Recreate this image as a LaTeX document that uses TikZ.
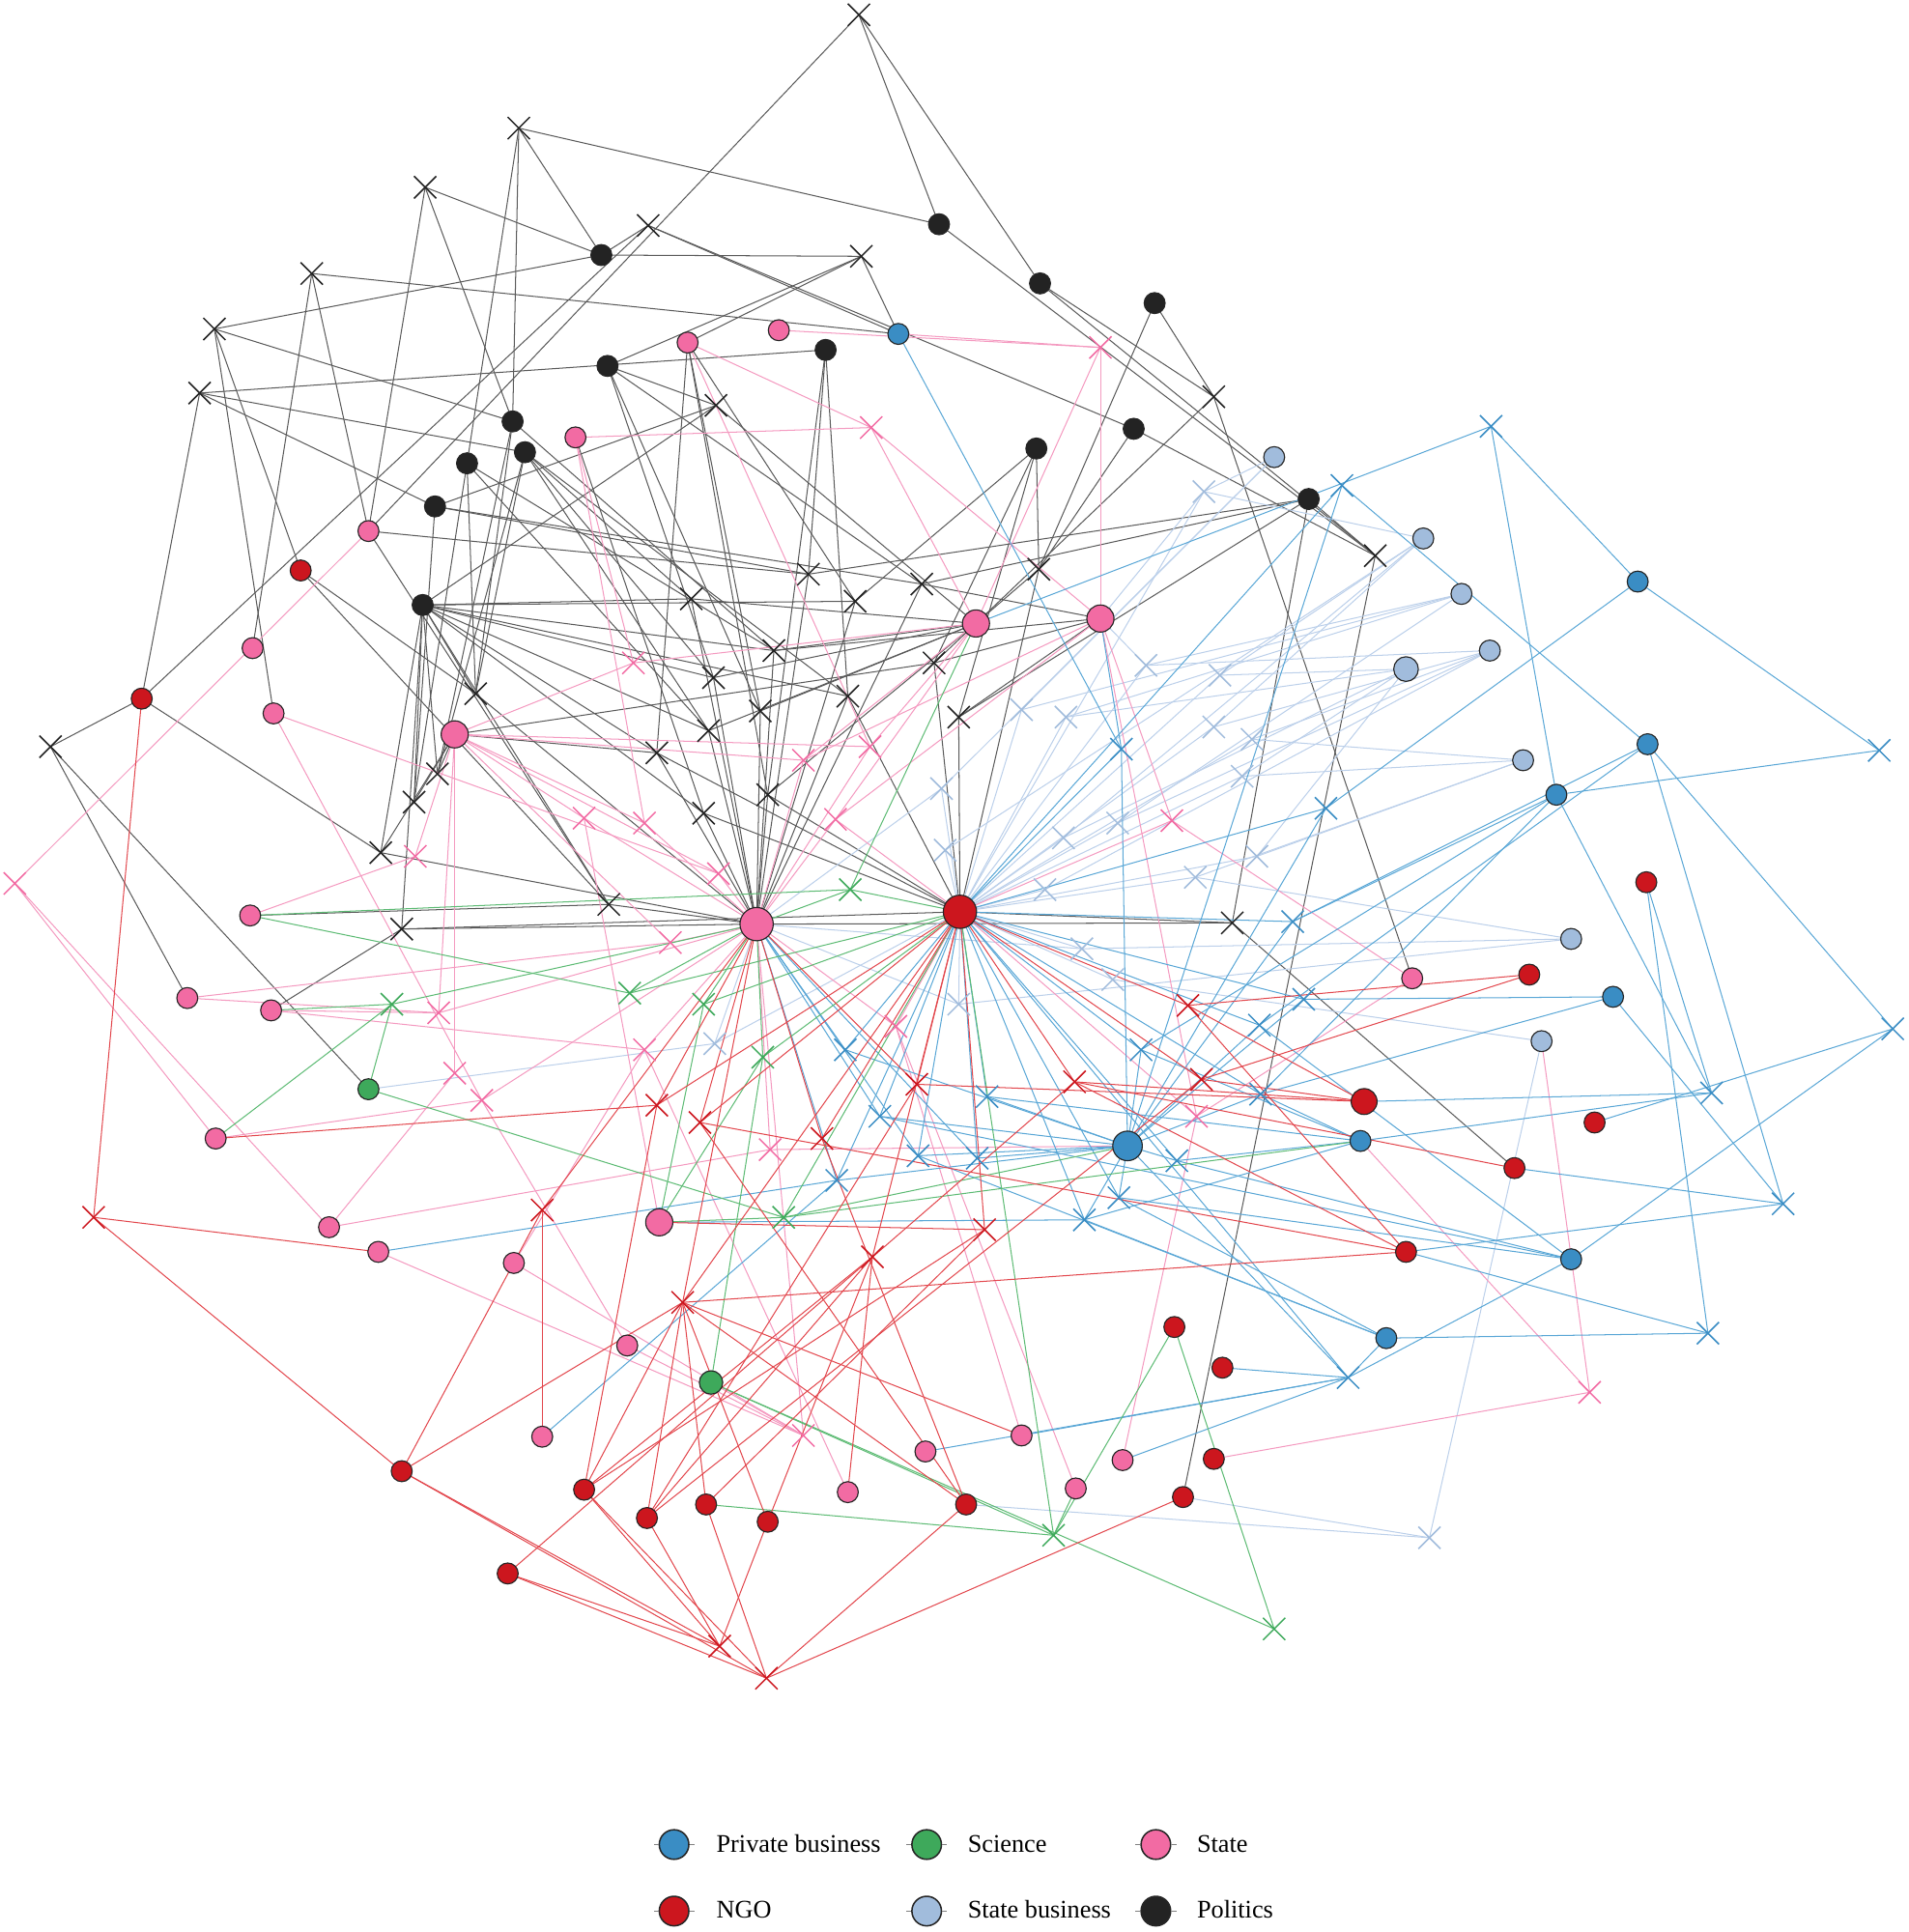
\documentclass[tikz,border=0pt]{standalone}
\usepackage{fontspec}
\setmainfont{Liberation Serif}
\usetikzlibrary{shapes.misc,backgrounds}
\definecolor{cBus}{HTML}{3A8DC4}
\definecolor{cSci}{HTML}{3EA95B}
\definecolor{cSta}{HTML}{F26BA3}
\definecolor{cNgo}{HTML}{CC161E}
\definecolor{cSB}{HTML}{A1BCDC}
\definecolor{cPol}{HTML}{232323}
\definecolor{eBlk}{HTML}{5A5A5A}
\definecolor{ePnk}{HTML}{F49AC0}
\definecolor{eRed}{HTML}{E2474D}
\definecolor{eBlu}{HTML}{5AA7D6}
\definecolor{eLb}{HTML}{BCD0EA}
\definecolor{eGrn}{HTML}{5DBB74}
\begin{document}
\begin{tikzpicture}[x=0.5pt,y=0.5pt,
  actor/.style={circle,draw=black!85,line width=0.45pt,inner sep=0,minimum size=8.5pt},
  pol/.style={actor,fill=cPol},
  sta/.style={actor,fill=cSta},
  ngo/.style={actor,fill=cNgo},
  bus/.style={actor,fill=cBus},
  sbus/.style={actor,fill=cSB},
  sci/.style={actor,fill=cSci},
  big/.style={minimum size=11pt},
  hub/.style={minimum size=13.5pt},
  evt/.style={cross out,draw,line width=0.6pt,inner sep=0,outer sep=0,minimum size=9pt},
  xblk/.style={evt,draw=cPol},
  xpnk/.style={evt,draw=cSta},
  xred/.style={evt,draw=cNgo},
  xblu/.style={evt,draw=cBus},
  xlb/.style={evt,draw=cSB},
  xgrn/.style={evt,draw=cSci},
  eline/.style={line width=0.4pt},
  lgtext/.style={anchor=base west,font=\fontsize{10.3}{12}\selectfont,inner sep=0},
  lgdot/.style={actor,minimum size=12pt,line width=0.6pt}
]
\useasboundingbox (0,0) rectangle (1549,-1568);
% ---------------- actors ----------------
\foreach \n/\a/\b in {p1/762/182,p2/488/207,p3/844/230,p4/937/246,p5/670/284,p6/493/297,p7/416/342,p8/426/367,p9/379/376,p10/920/348,p11/841/364,p12/353/411,p13/1062/405,p14/343/491}
  \node[pol] (\n) at (\a,-\b) {};
\foreach \n/\a/\b in {s1/558/278,s2/632/268,s3/467/355,s4/299/431,s5/205/526,s6/222/579,s11/203/743,s12/152/810,s13/220/820,s14/175/924,s15/267/996,s16/307/1016,s17/417/1025,s19/509/1092,s20/440/1166,s21/688/1211,s22/751/1178,s23/829/1165,s24/873/1208,s25/911/1185,s26/1146/794}
  \node[sta] (\n) at (\a,-\b) {};
\foreach \n/\a/\b in {s7/369/596,s8/792/506,s9/893/502,s18/535/992}
  \node[sta,big] (\n) at (\a,-\b) {};
\node[sta,hub] (s10) at (614,-750) {};
\foreach \n/\a/\b in {n1/244/463,n2/115/567,n4/1336/716,n5/1241/791,n7/1294/911,n8/1229/948,n9/1141/1016,n10/953/1077,n11/992/1110,n12/985/1184,n13/960/1215,n14/326/1194,n15/474/1209,n16/525/1232,n17/573/1221,n18/623/1235,n19/784/1221,n20/412/1277}
  \node[ngo] (\n) at (\a,-\b) {};
\node[ngo,minimum size=10.5pt] (n6) at (1107,-894) {};
\node[ngo,hub] (n3) at (779,-740) {};
\foreach \n/\a/\b in {b1/729/271,b2/1329/472,b3/1337/604,b4/1263/645,b5/1309/809,b7/1104/926,b8/1275/1022,b9/1125/1086}
  \node[bus] (\n) at (\a,-\b) {};
\node[bus,minimum size=12pt] (b6) at (915,-930) {};
\foreach \n/\a/\b in {sb1/1034/371,sb2/1155/437,sb3/1186/482,sb4/1209/528,sb6/1236/617,sb7/1275/762,sb8/1251/845}
  \node[sbus] (\n) at (\a,-\b) {};
\node[sbus,minimum size=10pt] (sb5) at (1141,-543) {};
\node[sci] (g1) at (299,-884) {};
\node[sci,minimum size=9.5pt] (g2) at (577,-1122) {};
% ---------------- events ----------------
\foreach \n/\a/\b in {x1/697/12,x2/421/104,x3/345/152,x4/526/183,x5/699/208,x6/253/222,x7/174/267,x8/162/319,x9/581/329,x10/985/322,x11/1116/451,x12/656/466,x13/748/474,x14/694/488,x15/843/462,x16/561/486,x17/628/528,x18/758/538,x19/579/550,x20/386/563,x21/688/565,x22/617/577,x23/778/582,x24/575/593,x25/533/611,x26/41/606,x27/355/628,x28/336/651,x29/623/645,x30/571/660,x31/309/692,x32/494/734,x33/326/754,x34/1000/749}
  \node[xblk] (\n) at (\a,-\b) {};
\foreach \n/\a/\b in {k1/893/282,k2/707/347,k3/514/538,k4/652/617,k5/706/606,k6/474/664,k7/523/668,k8/337/695,k9/678/665,k10/583/709,k11/951/666,k12/544/765,k13/356/822,k14/369/871,k15/391/893,k16/523/852,k17/625/933,k18/12/717,k19/727/833,k20/652/1165,k21/1290/1130,k22/971/906}
  \node[xpnk] (\n) at (\a,-\b) {};
\foreach \n/\a/\b in {gx1/690/722,gx2/318/815,gx3/511/806,gx4/571/815,gx5/619/858,gx6/636/988,gx7/855/1246,gx8/1034/1322}
  \node[xgrn] (\n) at (\a,-\b) {};
\foreach \n/\a/\b in {r1/964/816,r2/533/897,r3/568/911,r4/744/880,r5/667/924,r6/872/878,r7/975/876,r8/440/982,r9/76/988,r10/799/998,r11/708/1020,r12/554/1057,r13/584/1336,r14/622/1362}
  \node[xred] (\n) at (\a,-\b) {};
\foreach \n/\a/\b in {bx1/1210/346,bx2/1089/394,bx3/1525/609,bx4/910/608,bx5/1076/656,bx6/1049/748,bx7/1058/811,bx8/1022/832,bx9/686/852,bx10/801/890,bx11/714/906,bx12/926/852,bx13/745/938,bx14/793/940,bx15/679/958,bx16/955/942,bx17/908/972,bx18/880/990,bx19/1023/888,bx20/1536/835,bx21/1389/887,bx22/1447/977,bx23/1386/1082,bx24/1094/1118}
  \node[xblu] (\n) at (\a,-\b) {};
\foreach \n/\a/\b in {lb1/977/399,lb2/930/540,lb3/990/548,lb4/865/582,lb5/1016/600,lb6/1008/630,lb7/863/680,lb8/907/668,lb9/970/712,lb10/1020/695,lb11/848/722,lb12/878/770,lb13/903/795,lb14/778/815,lb15/580/847,lb16/764/640,lb17/767/690,lb18/1160/1248,lb19/829/576,lb20/985/590}
  \node[xlb] (\n) at (\a,-\b) {};
% ---------------- edges ----------------
\begin{pgfonlayer}{background}
\foreach \c/\l in {x1/{s4,p1,p3},x2/{p1,p2,p7,p9},x3/{p2,s4,p7},x4/{p2,b1,p10,n2},x5/{p2,s1,p6,b1},x6/{b1,s5,s4},x7/{p2,p7,n1,s6},x8/{p5,p8,n2,p12},x9/{p12,s8,p14,p6},x10/{p3,p4,s8,s26},x11/{p1,p3,p10,p13,n13},x12/{s4,p12,p5,s10,p13},x13/{p12,p6,s10,p13,s9},x14/{p14,s1,s10,p11},x15/{p10,p11,p4,s8,n3},x16/{p8,p14,s10,s8},x17/{p14,p9,s8,s9,s10,p7},x18/{p11,s8,s9,n3,s7},x19/{p8,p14,s10,s8,p6},x20/{p7,p8,p9,p14,s10,n1},x21/{p5,p14,s10,n3,p8},x22/{p6,s1,s10,s8},x23/{p11,s9,n3,p13},x24/{p8,p9,s10,s8,p14},x25/{p14,s7,s1,s10,n3},x26/{n2,s12,g1},x27/{p14,p7,p8,s7},x28/{p14,p9,p12,s7},x29/{s10,s1,p5,n3,s8},x30/{p14,s3,s10,n3},x31/{n2,p14,s7,s10},x32/{p14,s11,s10,n1,s4},x33/{p14,s13,s10,n3},x34/{n3,p13,n8,s10}}
  {\foreach \t in \l {\draw[eline,eBlk] (\c.center) -- (\t.center);}}
\foreach \c/\l in {lb1/{sb1,sb2,n3,s9},lb2/{sb3,sb4,n3,s9},lb3/{sb2,sb5,n3},lb4/{sb3,sb5,n3},lb5/{sb4,sb6,n3},lb6/{sb5,sb6,n3},lb7/{sb2,n3,sb5},lb8/{sb3,sb4,n3},lb9/{sb6,sb7,n3},lb10/{sb5,sb6,n3},lb11/{sb4,n3},lb12/{sb7,n3,s10},lb13/{sb8,n3},lb14/{n3,s10,sb7},lb15/{s10,n3,g1},lb16/{n3,s10,sb1},lb17/{n3,sb2},lb18/{sb8,n13,n19},lb19/{sb1,n3,sb3},lb20/{sb2,sb4,n3}}
  {\foreach \t in \l {\draw[eline,eLb] (\c.center) -- (\t.center);}}
\foreach \c/\l in {k1/{s2,b1,s8,s9},k2/{s3,s8,s9,s1},k3/{s7,s3,s8},k4/{s7,s10,s8,s9},k5/{s8,s10,s7,s1},k6/{s7,s10,s18},k7/{s7,s10,s3},k8/{s7,s11},k9/{s8,s10,n3,s9},k10/{s7,s10,s6},k11/{s9,n3,s26},k12/{s10,s12,s7},k13/{s12,s13,s7,s10},k14/{s7,s15},k15/{s6,s19,s10,s14},k16/{s10,s13,s17,s21},k17/{b6,s10,s15},k18/{s4,s14,s15},k19/{s10,n3,s23,s24},k20/{s19,s17,s16,s10,g2},k21/{sb8,b7,n12},k22/{s9,s25,n3,s26}}
  {\foreach \t in \l {\draw[eline,ePnk] (\c.center) -- (\t.center);}}
\foreach \c/\l in {bx1/{b2,b4,s8},bx2/{b3,b6,n3},bx3/{b2,b4},bx4/{b1,n3,b6,s9},bx5/{b6,b2,n3},bx6/{b3,n3,b6,b4},bx7/{b5,b6,n3},bx8/{b3,b6,n3,b8},bx9/{s10,n3,b6},bx10/{n3,b6,b7},bx11/{n3,s10,b6,b8},bx12/{n3,b6,b7,b4},bx13/{b6,n3,s10,b9},bx14/{b6,n3,s10},bx15/{s10,n3,b6,s16,s20},bx16/{n3,b6,b7,b8},bx17/{b6,n3,b9,b8},bx18/{n3,b6,b9,b7,s18},bx19/{b6,b7,n3,b4,b5},bx20/{b3,n7,b8},bx21/{n6,b7,n4,b4},bx22/{b3,b5,n8,n9},bx23/{b9,n9,n4},bx24/{n11,b9,b8,b6,n3,s22,s25,s23}}
  {\foreach \t in \l {\draw[eline,eBlu] (\c.center) -- (\t.center);}}
\foreach \c/\l in {gx1/{s8,s10,n3,s11},gx2/{g1,s14,s13,s10},gx3/{s11,s10,n3},gx4/{s10,n3,s18},gx5/{s10,n3,g2,s18},gx6/{s18,g1,b6,n3,b7},gx7/{n17,g2,n3,n10,s24},gx8/{g2,n10}}
  {\foreach \t in \l {\draw[eline,eGrn] (\c.center) -- (\t.center);}}
\foreach \c/\l in {r1/{n3,n6,n5,n9},r2/{s14,n3,s10,n15},r3/{s10,n3,n19,n9},r4/{n3,s10,n6,n16},r5/{s10,n3,n19},r6/{n3,n6,n8,n9,n20},r7/{n3,n6,n5,n16},r8/{s10,s20,n14},r9/{n2,s16,n14},r10/{s18,n3,n15,n17},r11/{n3,n15,n16,n18,s21},r12/{n14,s10,n3,n15,n16,n17,n19,n9,n18,s23},r13/{n20,n14,n15,n16,n18},r14/{n20,n14,n15,n17,n19,n13}}
  {\foreach \t in \l {\draw[eline,eRed] (\c.center) -- (\t.center);}}
\end{pgfonlayer}
% ---------------- legend ----------------
\node[lgdot,fill=cBus] (L1) at (547,-1497) {};
\node[lgdot,fill=cSci] (L2) at (752,-1497) {};
\node[lgdot,fill=cSta] (L3) at (938,-1497) {};
\node[lgdot,fill=cNgo] (L4) at (547,-1551) {};
\node[lgdot,fill=cSB]  (L5) at (752,-1551) {};
\node[lgdot,fill=cPol] (L6) at (938,-1551) {};
\foreach \L in {L1,L2,L3,L4,L5,L6} {
  \draw[gray,line width=0.4pt] (\L.west) -- +(-4,0);
  \draw[gray,line width=0.4pt] (\L.east) -- +(4,0);
}
\node[lgtext] (T1) at (581,-1503) {Private business};
\node[lgtext] (T2) at (785,-1503) {Science};
\node[lgtext] (T3) at (971,-1503) {State};
\node[lgtext] (T4) at (581,-1557) {NGO};
\node[lgtext] (T5) at (785,-1557) {State business};
\node[lgtext] (T6) at (971,-1557) {Politics};
\end{tikzpicture}
\end{document}
